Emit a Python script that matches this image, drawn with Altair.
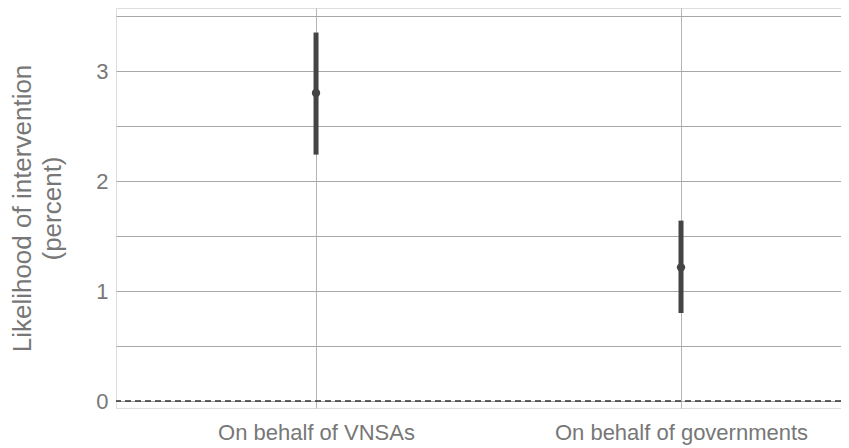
import altair as alt
import pandas as pd

categories = ["On behalf of VNSAs", "On behalf of governments"]
estimates = [2.80, 1.215]
lower = [2.24, 0.80]
upper = [3.35, 1.64]

df = pd.DataFrame({"cat": categories, "est": estimates, "lo": lower, "hi": upper})

FONT = "Liberation Sans"
GREY = "#777777"

x_enc = alt.X(
    "cat:N",
    sort=categories,
    scale=alt.Scale(type="point", padding=0.4932, align=0.5556),
    axis=alt.Axis(
        title=None, domain=False, ticks=False, grid=True, gridColor="#b5b5b5",
        gridWidth=1, labelFontSize=22, labelColor=GREY, labelPadding=14,
        labelFont=FONT, labelAngle=0, labelLimit=0,
    ),
)
y_scale = alt.Scale(domain=[-0.0636, 3.573], nice=False, zero=False)

bars = alt.Chart(df).mark_rule(color="#444444", strokeWidth=5).encode(
    x=x_enc,
    y=alt.Y(
        "lo:Q",
        scale=y_scale,
        axis=alt.Axis(
            values=[0, 0.5, 1, 1.5, 2, 2.5, 3, 3.5],
            labelExpr="datum.value % 1 == 0 ? format(datum.value, 'd') : ''",
            title=["Likelihood of intervention", "(percent)"],
            titleFontSize=26, titleFontWeight="normal", titleColor=GREY,
            titleFont=FONT, titlePadding=30, titleLineHeight=30,
            domain=False, ticks=False, grid=True, gridColor="#a8a8a8", gridWidth=1,
            labelFontSize=22, labelColor=GREY, labelPadding=8, labelFont=FONT,
        ),
    ),
    y2="hi:Q",
)

points = alt.Chart(df).mark_point(filled=True, color="#444444", size=70, opacity=1).encode(
    x=alt.X("cat:N", sort=categories),
    y=alt.Y("est:Q"),
)

zero = alt.Chart(pd.DataFrame({"z": [0]})).mark_rule(
    color="#333333", strokeDash=[6, 4], strokeWidth=1.3
).encode(y=alt.Y("z:Q"))

chart = (
    alt.layer(bars, points, zero)
    .properties(
        width=725, height=400,
        autosize=alt.AutoSizeParams(type="none"),
        padding={"left": 108, "top": 0, "right": 0, "bottom": 40},
    )
    .configure_view(stroke=None)
    .configure(background="white")
)

chart.save("out.html", embed_options={"renderer": "svg", "actions": False})
